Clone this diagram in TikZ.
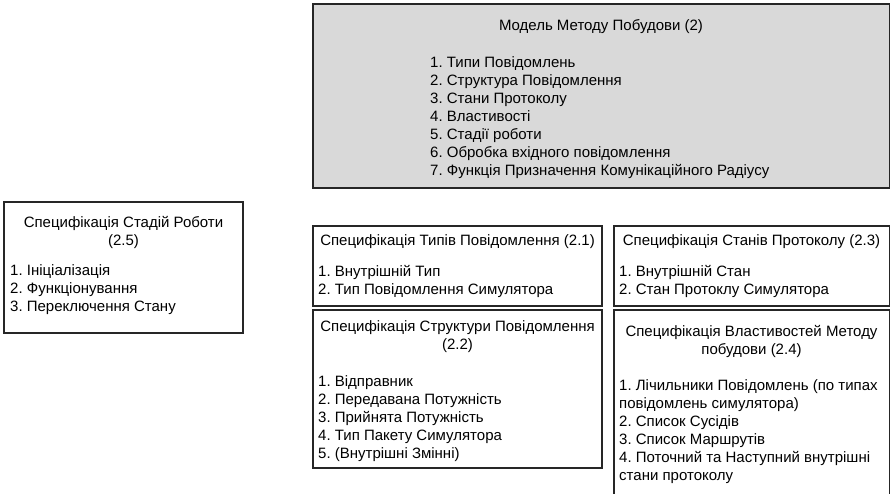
\documentclass[tikz,border=0pt]{standalone}
\usepackage{fontspec}
\setmainfont{Liberation Sans}
\definecolor{modelgray}{RGB}{217,217,217}
\tikzset{
  specbox/.style={draw=black!85, line width=1.1pt},
  spechead/.style={inner sep=0pt, align=center, font=\fontsize{15}{18}\selectfont\frenchspacing},
  speclist/.style={inner sep=0pt, align=left, anchor=north west, font=\fontsize{15}{18}\selectfont\frenchspacing},
}
\begin{document}
\begin{tikzpicture}[x=1pt, y=-1pt]
		%%%%% FRAME %%%%%
		\useasboundingbox (0,0) rectangle (890,493);
		\clip (0,0) rectangle (890,493);
		
		% model (2)
		\draw[specbox, fill=modelgray] (313,4) rectangle (889.5,188);
		\node[spechead] (model) at (601,26.5) {Модель Методу Побудови (2)};
		\node[speclist] (modellist) at (430,56) {1. Типи Повідомлень\\2. Структура Повідомлення\\3. Стани Протоколу\\4. Властивості\\5. Стадії роботи\\6. Обробка вхідного повідомлення\\7. Функція Призначення Комунікаційного Радіусу};
		
		% stages (2.5)
		\draw[specbox] (4,202) rectangle (243,333);
		\node[spechead] (stages) at (123.5,232.5) {Специфікація Стадій Роботи\\(2.5)};
		\node[speclist] (stageslist) at (10,264) {1. Ініціалізація\\2. Функціонування\\3. Переключення Стану};
		
		% types (2.1)
		\draw[specbox] (313,226) rectangle (602,306);
		\node[spechead] (types) at (457.5,242) {Специфікація Типів Повідомлення (2.1)};
		\node[speclist] (typeslist) at (318,265) {1. Внутрішній Тип\\2. Тип Повідомлення Симулятора};
		
		% structure (2.2)
		\draw[specbox] (313,310) rectangle (602,468);
		\node[spechead] (struct) at (457.5,337) {Специфікація Структури Повідомлення\\(2.2)};
		\node[speclist] (structlist) at (318,375) {1. Відправник\\2. Передавана Потужність\\3. Прийнята Потужність\\4. Тип Пакету Симулятора\\5. (Внутрішні Змінні)};
		
		% states (2.3)
		\draw[specbox] (614,226) rectangle (889.5,306);
		\node[spechead] (states) at (751.5,242) {Специфікація Станів Протоколу (2.3)};
		\node[speclist] (stateslist) at (619,265) {1. Внутрішній Стан\\2. Стан Протоклу Симулятора};
		
		% properties (2.4)
		\draw[specbox] (614,310) rectangle (889.5,520);
		\node[spechead] (props) at (751.5,341) {Специфікація Властивостей Методу\\побудови (2.4)};
		\node[speclist] (propslist) at (619,379) {1. Лічильники Повідомлень (по типах\\повідомлень симулятора)\\2. Список Сусідів\\3. Список Маршрутів\\4. Поточний та Наступний внутрішні\\стани протоколу};
		
		%%%%% END %%%%%
\end{tikzpicture}
\end{document}
